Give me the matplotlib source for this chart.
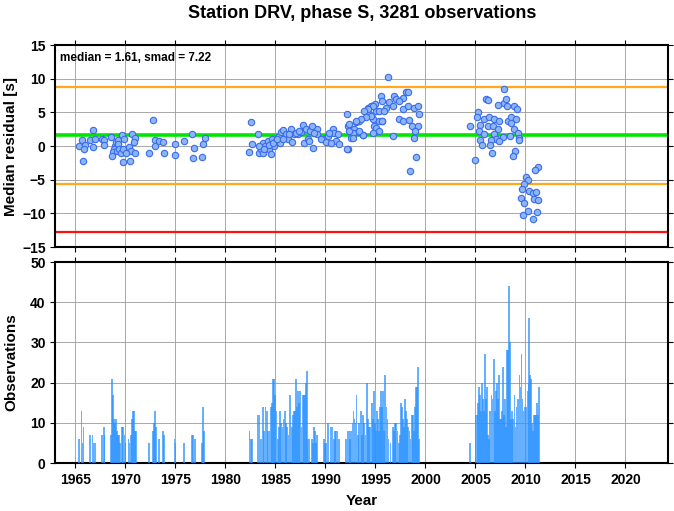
import numpy as np
import matplotlib
matplotlib.use("Agg")
import matplotlib.pyplot as plt

plt.rcParams['font.family'] = ['Liberation Sans', 'DejaVu Sans']
plt.rcParams['font.weight'] = 'bold'

# Median residual per epoch (year, seconds)
res_year = [
    1965.63, 1965.40, 1965.97, 1965.87, 1965.77, 1966.73, 1966.50, 1966.97, 1966.80, 1967.63,
    1967.90, 1967.83, 1968.60, 1968.97, 1969.07, 1969.27, 1969.67, 1969.90, 1969.30, 1968.83,
    1968.73, 1968.67, 1969.13, 1969.40, 1969.57, 1969.80, 1970.33, 1970.57, 1970.07, 1971.00,
    1969.73, 1970.47, 1970.67, 1971.00, 1970.90, 1972.80, 1972.40, 1973.00, 1973.33, 1973.73,
    1972.93, 1973.90, 1974.93, 1975.00, 1975.83, 1976.67, 1976.90, 1976.80, 1977.77, 1977.93,
    1977.70,
    1982.60, 1982.40, 1982.67, 1983.27, 1983.33, 1983.53, 1983.73, 1983.80, 1984.00, 1984.23,
    1984.40, 1984.57, 1984.67, 1984.87, 1985.07, 1985.33, 1985.47, 1985.57, 1985.80, 1986.07,
    1986.23, 1986.57, 1986.67, 1986.90, 1987.23, 1987.57, 1987.73, 1987.90, 1988.07, 1988.23,
    1988.40, 1988.57, 1988.80, 1989.13, 1989.13, 1989.90, 1990.23, 1990.73, 1990.90, 1991.07,
    1991.40, 1991.23, 1992.23, 1992.23, 1992.57, 1992.90, 1993.23, 1993.40, 1993.73, 1994.07,
    1994.23, 1994.57, 1994.90, 1995.13, 1995.40, 1995.67,
    1983.40, 1983.90, 1984.33, 1984.73, 1985.13, 1985.73, 1986.40, 1987.07, 1987.40, 1988.47,
    1988.67, 1988.90, 1989.57, 1990.07, 1990.40, 1990.57, 1992.40, 1992.73, 1993.07, 1994.40,
    1994.73, 1995.07,
    1996.30, 1995.57, 1995.67, 1998.07, 1998.23, 1997.73, 1996.90, 1997.07, 1997.40, 1996.40,
    1996.07, 1995.00, 1994.73, 1994.23, 1993.90, 1994.57, 1994.07, 1993.57, 1993.07, 1992.13,
    1995.33, 1995.90, 1996.73, 1997.80, 1998.23, 1998.90, 1999.23, 1999.40, 1997.40, 1997.73,
    1998.40, 1998.67, 1999.23, 1999.00, 1998.90, 1996.80, 1995.67, 1995.07, 1995.33, 1994.80,
    1993.80, 1992.73, 1999.07, 1998.50, 1992.13, 1992.40, 1993.40,
    2007.83, 2006.07, 2006.30, 2007.30, 2007.83, 2008.07, 2008.17, 2008.83, 2009.17, 2005.23,
    2005.17, 2004.50, 2005.90, 2006.40, 2006.90, 2007.40, 2008.30, 2008.57, 2009.07, 2005.50,
    2006.23, 2006.73, 2007.23, 2008.57, 2008.83, 2005.40, 2005.83, 2006.90, 2007.73, 2008.50,
    2009.23, 2009.40, 2007.07, 2005.50, 2006.57, 2007.40, 2009.40, 2005.63, 2006.50, 2008.97,
    2006.63, 2008.73, 2005.00,
    2011.30, 2010.97, 2010.07, 2010.27, 2009.90, 2009.63, 2010.40, 2010.73, 2011.07, 2009.57,
    2009.83, 2010.90, 2011.23, 2010.30, 2011.17, 2009.73, 2010.73,
]
res_value = [
    0.85, 0.00, 0.10, -0.50, -2.20, 2.45, 0.85, 1.10, -0.15, 1.05,
    0.90, 0.15, 1.35, 0.00, 0.65, 0.90, 1.60, 1.00, 0.35, -0.50,
    -0.90, -1.50, -0.75, -0.40, -1.00, -0.50, -0.15, -0.75, -1.00, -1.10,
    -2.30, -2.20, 1.75, 1.25, 0.65, 3.90, -1.05, 0.95, 0.75, 0.60,
    0.00, -1.10, 0.35, -1.40, 0.70, 1.80, -0.35, -1.80, 0.35, 1.20,
    -1.65,
    3.55, -0.90, 0.35, 1.80, -1.10, -0.50, 0.50, -1.00, 0.00, 0.75,
    -0.50, -1.25, 1.10, 0.00, 0.75, 1.50, 0.40, 2.10, 2.35, 1.85,
    1.10, 2.50, 0.60, 1.75, 1.85, 2.10, 3.10, 0.50, 2.50, 1.10,
    0.75, 2.60, -0.25, 2.50, 1.75, 1.00, 1.50, 2.50, 2.00, 0.75,
    0.35, 1.75, 3.00, -0.50, 1.25, 2.60, 2.10, 3.75, 1.60, 5.00,
    5.70, 6.00, 3.00, 2.25, 3.75, 3.75,
    0.00, -0.50, 0.10, 0.50, 1.10, 1.00, 1.75, 2.00, 2.25, 2.25,
    2.90, 2.00, 1.10, 0.60, 2.00, 0.50, 3.25, 2.00, 3.50, 4.70,
    4.00, 5.20,
    10.20, 7.45, 6.70, 8.00, 8.05, 7.20, 7.45, 7.00, 6.70, 6.50,
    5.70, 6.20, 6.00, 5.50, 5.20, 4.50, 4.25, 4.00, 3.75, 4.70,
    5.20, 5.20, 6.00, 5.50, 6.00, 5.70, 5.90, 4.70, 4.00, 3.75,
    3.90, 2.90, 2.90, 2.25, 1.25, 1.50, 3.75, 2.75, 2.25, 2.00,
    1.60, 1.25, -1.65, -3.70, -0.40, 2.25, 2.25,
    8.45, 7.00, 6.90, 6.05, 6.45, 7.00, 5.90, 5.90, 5.50, 5.10,
    4.25, 3.00, 4.00, 4.25, 4.00, 3.75, 3.75, 4.25, 4.00, 3.10,
    3.00, 2.90, 2.50, 3.40, 2.60, 2.25, 1.75, 1.75, 1.40, 1.50,
    1.90, 1.25, 1.10, 0.90, 0.90, 0.75, 0.85, 0.10, 0.10, -0.75,
    -1.00, -1.50, -2.15,
    -3.10, -3.50, -4.60, -5.10, -5.60, -6.35, -6.70, -6.95, -6.85, -7.70,
    -8.45, -7.85, -7.95, -9.70, -9.85, -10.20, -10.85,
]

# Number of observations per bin
obs_year = [
    1965.33, 1965.60, 1965.70, 1965.80, 1966.47, 1966.70, 1966.80, 1966.90, 1967.00, 1967.67,
    1967.83, 1967.90, 1968.57, 1968.67, 1968.77, 1968.87, 1968.97, 1969.07, 1969.17, 1969.27,
    1969.37, 1969.47, 1969.67, 1969.77, 1969.90, 1970.00, 1970.30, 1970.40, 1970.53, 1970.67,
    1970.77, 1970.87, 1970.93, 1971.03, 1972.33, 1972.77, 1972.87, 1972.97, 1973.07, 1973.37,
    1973.73, 1973.87, 1974.90, 1975.00, 1975.83, 1976.63, 1976.73, 1976.93, 1977.63, 1977.73,
    1977.87,
    1982.40, 1982.53, 1982.67, 1983.23, 1983.40, 1983.50, 1983.60, 1983.77, 1983.87, 1984.00,
    1984.13, 1984.27, 1984.40, 1984.53, 1984.63, 1984.73, 1984.87, 1984.97, 1985.10, 1985.23,
    1985.37, 1985.47, 1985.57, 1985.70, 1985.80, 1985.93, 1986.03, 1986.17, 1986.30, 1986.47,
    1986.63, 1986.73, 1986.83, 1986.93, 1987.03, 1987.13, 1987.23, 1987.33, 1987.43, 1987.60,
    1987.73, 1987.87, 1987.97, 1988.07, 1988.13, 1988.27, 1988.40, 1988.63, 1988.73, 1988.83,
    1988.97, 1989.07, 1989.17, 1989.83, 1989.93, 1990.07, 1990.27, 1990.57, 1990.70, 1990.83,
    1990.97, 1991.07, 1991.20, 1991.33,
    1992.07, 1992.20, 1992.33, 1992.47, 1992.57, 1992.70, 1992.80, 1992.90, 1993.00, 1993.10,
    1993.23, 1993.37, 1993.53, 1993.63, 1993.77, 1993.87, 1994.00, 1994.13, 1994.27, 1994.33,
    1994.47, 1994.63, 1994.77, 1994.87, 1994.97, 1995.07, 1995.17, 1995.27, 1995.37, 1995.47,
    1995.57, 1995.67, 1995.77, 1995.87, 1995.97, 1996.10, 1996.20, 1996.30, 1996.50, 1996.73,
    1996.87, 1996.97, 1997.07, 1997.20, 1997.33, 1997.43, 1997.53, 1997.63, 1997.73, 1997.83,
    1997.97, 1998.07, 1998.17, 1998.27, 1998.40, 1998.50, 1998.63, 1998.77, 1998.87, 1998.97,
    1999.07, 1999.17, 1999.27, 1999.37,
    2004.47, 2005.00, 2005.13, 2005.23, 2005.33, 2005.43, 2005.53, 2005.63, 2005.73, 2005.83,
    2005.93, 2006.03, 2006.17, 2006.27, 2006.37, 2006.47, 2006.60, 2006.70, 2006.83, 2006.93,
    2007.03, 2007.13, 2007.23, 2007.33, 2007.43, 2007.53, 2007.63, 2007.73, 2007.83, 2007.97,
    2008.07, 2008.17, 2008.27, 2008.37, 2008.47, 2008.57, 2008.67, 2008.77, 2008.90, 2009.00,
    2009.10, 2009.20, 2009.30, 2009.40, 2009.50, 2009.60, 2009.70, 2009.80, 2009.90, 2010.00,
    2010.10, 2010.20, 2010.30, 2010.33, 2010.43, 2010.53, 2010.63, 2010.73, 2010.83, 2010.93,
    2011.03, 2011.13, 2011.23, 2011.33,
]
obs_count = [
    6, 13, 5, 9, 7, 7, 5, 5, 5, 7,
    9, 7, 7, 21, 17, 11, 10, 11, 8, 7,
    7, 5, 9, 9, 7, 5, 6, 5, 7, 11,
    13, 13, 8, 8, 5, 8, 10, 13, 9, 6,
    8, 7, 6, 5, 5, 7, 7, 6, 5, 14,
    8,
    8, 6, 6, 12, 12, 6, 6, 14, 8, 14,
    13, 8, 8, 14, 15, 21, 21, 17, 13, 6,
    9, 13, 10, 9, 11, 13, 10, 9, 7, 17,
    9, 12, 13, 13, 21, 14, 18, 15, 18, 9,
    17, 17, 17, 20, 23, 6, 6, 6, 5, 9,
    8, 5, 7, 6, 5, 5, 10, 9, 9, 6,
    8, 8, 8, 6,
    6, 8, 8, 6, 8, 10, 13, 11, 10, 17,
    7, 10, 13, 7, 12, 10, 7, 20, 11, 9,
    9, 15, 11, 18, 10, 8, 13, 11, 8, 14,
    18, 14, 18, 8, 22, 14, 11, 6, 5, 9,
    8, 10, 10, 8, 5, 7, 15, 14, 11, 9,
    16, 13, 11, 9, 8, 6, 12, 12, 8, 14,
    19, 19, 24, 6,
    5, 12, 12, 15, 19, 17, 13, 20, 16, 13,
    27, 16, 19, 7, 6, 13, 17, 16, 26, 13,
    18, 20, 16, 22, 11, 11, 13, 24, 12, 16,
    9, 28, 28, 44, 30, 11, 13, 11, 17, 9,
    14, 16, 16, 22, 19, 27, 16, 13, 14, 14,
    14, 18, 20, 36, 22, 21, 10, 8, 12, 12,
    12, 15, 12, 19,
]

median = 1.61
smad = 7.22
x_ticks = list(range(1965, 2021, 5))

fig = plt.figure(figsize=(6.74, 5.11), dpi=100)
ax1 = fig.add_axes([0.0823, 0.5166, 0.9087, 0.3953])
ax2 = fig.add_axes([0.0823, 0.0939, 0.9087, 0.3933])

for ax in (ax1, ax2):
    ax.set_xlim(1963.0, 2024.25)
    ax.set_xticks(x_ticks)
    ax.grid(True, color='#9a9a9a', linewidth=0.6)
    ax.set_axisbelow(True)
    for s in ax.spines.values():
        s.set_linewidth(1.5)
    ax.tick_params(direction='out', length=3.5, width=0.8, top=True, right=True,
                   labelsize=10)

# top panel: residuals
ax1.set_ylim(-15, 15)
ax1.set_yticks(range(-15, 16, 5))
ax1.tick_params(labelbottom=False)
ax1.axhline(median + smad, color='#ffa91f', linewidth=1.6, zorder=2)
ax1.axhline(median - smad, color='#ffa91f', linewidth=1.6, zorder=2)
ax1.axhline(median, color='#00e600', linewidth=2.6, zorder=2)
ax1.axhline(median - 2 * smad, color='#ff1010', linewidth=1.6, zorder=2)
ax1.scatter(res_year, res_value, s=21, facecolor='#8cb6f2', edgecolor='#3a6af0',
            linewidth=0.8, zorder=3)
ax1.text(0.008, 0.965, 'median = %.2f, smad = %.2f' % (median, smad),
         transform=ax1.transAxes, ha='left', va='top', fontsize=8.5, fontweight='bold')
ax1.set_ylabel('Median residual [s]', fontsize=11, fontweight='bold')
ax1.yaxis.set_label_coords(-0.061, 0.5)

# bottom panel: observation counts
ax2.set_ylim(0, 50)
ax2.set_yticks(range(0, 51, 10))
ax2.bar(obs_year, obs_count, width=0.16, color='#2a92ff', alpha=0.72,
        linewidth=0, zorder=3)
ax2.set_ylabel('Observations', fontsize=11, fontweight='bold')
ax2.yaxis.set_label_coords(-0.061, 0.5)
ax2.set_xlabel('Year', fontsize=11, fontweight='bold', labelpad=5)

fig.suptitle('Station DRV, phase S, 3281 observations', fontsize=13,
             fontweight='bold', x=0.537, y=0.99)

fig.savefig('out.png', dpi=100)
